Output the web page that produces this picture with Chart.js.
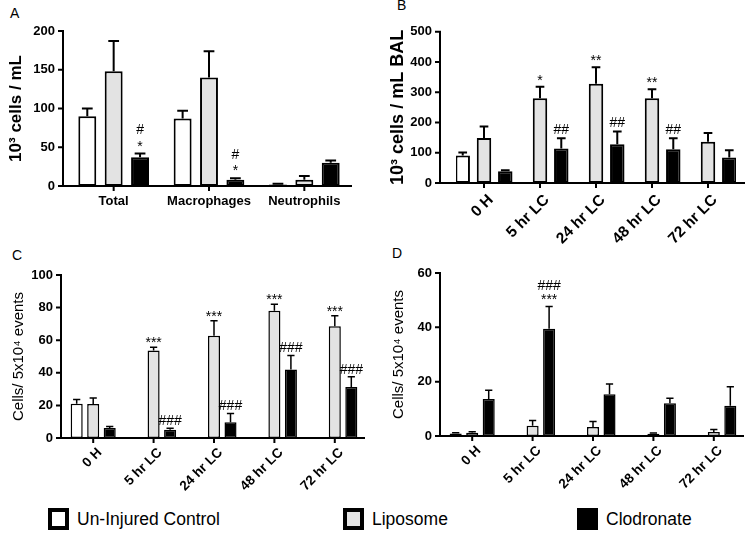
<!DOCTYPE html>
<html>
<head>
<meta charset="utf-8">
<script src="https://cdn.jsdelivr.net/npm/chart.js@4.4.1/dist/chart.umd.min.js"></script>
<style>
  body { margin: 0; background: #fff; width: 754px; height: 539px; position: relative; overflow: hidden;
         font-family: 'Liberation Sans', Arial, sans-serif; color: #000; }
  canvas { position: absolute; }
  .tag { position: absolute; font-size: 14px; line-height: 14px; }
  .key { position: absolute; top: 508px; box-sizing: border-box; width: 21px; height: 22px; border: 4px solid #000; }
  .keytext { position: absolute; top: 508px; font-size: 17.5px; line-height: 22px; }
</style>
</head>
<body>
<div class="tag" style="left:10px; top:6px;">A</div>
<div class="tag" style="left:397px; top:-2px;">B</div>
<div class="tag" style="left:12px; top:248px;">C</div>
<div class="tag" style="left:392px; top:246px;">D</div>

<canvas id="chartA" width="370" height="240" style="left:0px; top:0px;"></canvas>
<canvas id="chartB" width="374" height="250" style="left:380px; top:0px;"></canvas>
<canvas id="chartC" width="380" height="255" style="left:0px; top:250px;"></canvas>
<canvas id="chartD" width="374" height="255" style="left:380px; top:250px;"></canvas>

<div class="key" style="left:48px; background:#ffffff;"></div>
<div class="keytext" style="left:77px;">Un-Injured Control</div>
<div class="key" style="left:343px; background:#e3e3e3;"></div>
<div class="keytext" style="left:372px;">Liposome</div>
<div class="key" style="left:577px; background:#000000;"></div>
<div class="keytext" style="left:606px;">Clodronate</div>

<script>
// Grupos: Un-Injured Control (branco), Liposome (cinza), Clodronate (preto)

// --- Painel A: BAL total / macrófagos / neutrófilos ---
const aLabels = ['Total', 'Macrophages', 'Neutrophils'];
const aCtrl = [90, 87, 2];
const aCtrlErr = [10, 10, 1];
const aLipo = [148, 140, 8];
const aLipoErr = [39, 34, 5];
const aClod = [37, 8, 30];
const aClodErr = [5, 2, 3];
const aClodStars = ['*', '*', ''];
const aClodHashes = ['#', '#', ''];
const aTicks = [0, 50, 100, 150, 200];

// --- Painel B: células BAL ao longo do tempo ---
const timeLabels = ['0 H', '5 hr LC', '24 hr LC', '48 hr LC', '72 hr LC'];
const bCtrl = [91, null, null, null, null];
const bCtrlErr = [10, 0, 0, 0, 0];
const bLipo = [149, 280, 328, 280, 136];
const bLipoErr = [38, 38, 55, 30, 29];
const bClod = [39, 114, 128, 112, 84];
const bClodErr = [3, 34, 42, 36, 24];
const bLipoStars = ['', '*', '**', '**', ''];
const bClodHashes = ['', '##', '##', '##', ''];
const bTicks = [0, 100, 200, 300, 400, 500];

// --- Painel C ---
const cCtrl = [21, null, null, null, null];
const cCtrlErr = [2.6, 0, 0, 0, 0];
const cLipo = [20.8, 53.7, 62.8, 78, 68.5];
const cLipoErr = [3.8, 2, 9.2, 4, 6.5];
const cClod = [6.1, 5.0, 9.6, 42, 31.3];
const cClodErr = [1, 1, 5.4, 8.6, 6.3];
const cLipoStars = ['', '***', '***', '***', '***'];
const cClodHashes = ['', '###', '###', '###', '###'];
const cTicks = [0, 20, 40, 60, 80, 100];

// --- Painel D ---
const dCtrl = [0.9, null, null, null, null];
const dCtrlErr = [0.3, 0, 0, 0, 0];
const dLipo = [1.2, 3.8, 3.3, 0.8, 1.5];
const dLipoErr = [0.4, 1.9, 2.0, 0.3, 0.9];
const dClod = [13.6, 39.5, 15.4, 12.1, 11.1];
const dClodErr = [3.2, 8.2, 3.7, 1.8, 7.0];
const dClodStars = ['', '***', '', '', ''];
const dClodHashes = ['', '###', '', '', ''];
const dTicks = [0, 20, 40, 60];

const FONT = "'Liberation Sans', Arial, sans-serif";
Chart.defaults.font.family = FONT;
Chart.defaults.color = '#000';

// Eixos no estilo Prism + barras de erro + marcas de significância
const prismPlugin = {
    id: 'prism',
    afterDatasetsDraw(chart, args, opts) {
        const ctx = chart.ctx;
        const area = chart.chartArea;
        const xs = chart.scales.x;
        const ys = chart.scales.y;
        ctx.save();
        ctx.strokeStyle = '#000';
        ctx.fillStyle = '#000';
        ctx.lineCap = 'butt';

        chart.data.datasets.forEach((ds, di) => {
            const meta = chart.getDatasetMeta(di);
            meta.data.forEach((bar, i) => {
                const v = ds.data[i];
                if (v === null || v === undefined) return;
                const top = ys.getPixelForValue(v + (ds.errors[i] || 0));
                const half = bar.width * 0.3;
                ctx.lineWidth = opts.errWidth;
                ctx.beginPath();
                ctx.moveTo(bar.x, bar.y);
                ctx.lineTo(bar.x, top);
                ctx.moveTo(bar.x - half, top);
                ctx.lineTo(bar.x + half, top);
                ctx.stroke();

                // marcas: * embaixo, # em cima
                ctx.textAlign = 'center';
                ctx.textBaseline = 'alphabetic';
                ctx.font = '14px ' + FONT;
                let cy = top;
                const star = ds.stars ? ds.stars[i] : '';
                const hash = ds.hashes ? ds.hashes[i] : '';
                if (star) {
                    cy -= opts.starGap;
                    ctx.fillText(star, bar.x, cy + 0.575 * 14);
                }
                if (hash) {
                    cy -= star ? opts.stackGap : opts.hashGap;
                    ctx.fillText(hash, bar.x, cy + 0.35 * 14);
                }
            });
        });

        const x0 = area.left - opts.gapLeft;
        const x1 = area.right + opts.extraRight;
        const yTop = ys.getPixelForValue(ys.max);
        ctx.lineWidth = 2;
        ctx.beginPath();
        ctx.moveTo(x0, yTop - 1);
        ctx.lineTo(x0, area.bottom);
        ctx.lineTo(x1, area.bottom);
        ys.ticks.forEach(t => {
            const y = ys.getPixelForValue(t.value);
            ctx.moveTo(x0 - 5, y);
            ctx.lineTo(x0, y);
        });
        xs.ticks.forEach((t, i) => {
            const x = xs.getPixelForTick(i);
            ctx.moveTo(x, area.bottom);
            ctx.lineTo(x, area.bottom + 5);
        });
        ctx.stroke();

        // rótulos do eixo x inclinados a 45°
        if (opts.slanted) {
            ctx.font = 'bold ' + opts.labelSize + 'px ' + FONT;
            ctx.textAlign = 'right';
            ctx.textBaseline = 'middle';
            chart.data.labels.forEach((lab, i) => {
                const x = xs.getPixelForTick(i);
                ctx.save();
                ctx.translate(x + opts.labelDx, area.bottom + opts.labelDy);
                ctx.rotate(-Math.PI / 4);
                ctx.fillText(lab, 0, 0);
                ctx.restore();
            });
        }
        ctx.restore();
    }
};

function makeSeries(ctrl, ctrlErr, lipo, lipoErr, clod, clodErr, marks) {
    return [
        { label: 'Un-Injured Control', data: ctrl, errors: ctrlErr, backgroundColor: '#ffffff',
          stars: marks.ctrlStars, hashes: marks.ctrlHashes },
        { label: 'Liposome', data: lipo, errors: lipoErr, backgroundColor: '#e3e3e3',
          stars: marks.lipoStars, hashes: marks.lipoHashes },
        { label: 'Clodronate', data: clod, errors: clodErr, backgroundColor: '#000000',
          stars: marks.clodStars, hashes: marks.clodHashes }
    ];
}

function createPrismBarChart(elementId, labels, series, ticks, lay) {
    const ctx = document.getElementById(elementId).getContext('2d');
    new Chart(ctx, {
        type: 'bar',
        data: {
            labels: labels,
            datasets: series.map(s => Object.assign({
                borderColor: '#000',
                borderWidth: lay.barBorder,
                borderSkipped: false,
                categoryPercentage: lay.catPct,
                barPercentage: lay.barPct
            }, s))
        },
        options: {
            responsive: false,
            animation: false,
            events: [],
            layout: { padding: { left: 0, top: lay.top, right: lay.right, bottom: 0 } },
            plugins: {
                legend: { display: false },
                tooltip: { enabled: false },
                prism: { gapLeft: lay.gapLeft, extraRight: lay.extraRight, errWidth: lay.errWidth,
                         starGap: lay.starGap, hashGap: lay.hashGap, stackGap: lay.stackGap,
                         slanted: lay.slanted, labelSize: lay.labelSize,
                         labelDx: lay.labelDx, labelDy: lay.labelDy }
            },
            scales: {
                x: {
                    grid: { display: false, drawTicks: false },
                    border: { display: false },
                    ticks: {
                        display: !lay.slanted,
                        autoSkip: false,
                        maxRotation: 0,
                        minRotation: 0,
                        padding: 8,
                        font: { size: 13, weight: 'bold' }
                    },
                    afterFit: scale => { scale.height = lay.xHeight; }
                },
                y: {
                    min: ticks[0],
                    max: ticks[ticks.length - 1],
                    grid: { display: false, drawTicks: false },
                    border: { display: false },
                    afterBuildTicks: scale => { scale.ticks = ticks.map(v => ({ value: v })); },
                    ticks: { padding: lay.gapLeft + 8, font: { size: 13, weight: 'bold' } },
                    title: {
                        display: true,
                        text: lay.title,
                        font: { size: lay.titleSize, weight: lay.titleWeight },
                        padding: { top: lay.titlePad, bottom: 0 }
                    },
                    afterFit: scale => { scale.width = lay.yWidth; }
                }
            }
        },
        plugins: [prismPlugin]
    });
}

createPrismBarChart('chartA', aLabels,
    makeSeries(aCtrl, aCtrlErr, aLipo, aLipoErr, aClod, aClodErr,
               { clodStars: aClodStars, clodHashes: aClodHashes }),
    aTicks,
    { top: 31, right: 18, yWidth: 66, xHeight: 54, gapLeft: 3, extraRight: 0,
      catPct: 0.83, barPct: 0.68, barBorder: 2, errWidth: 2, slanted: false,
      title: '10³ cells / mL', titleSize: 17, titleWeight: 'bold', titlePad: 6,
      starGap: 11, hashGap: 9, stackGap: 13 });

createPrismBarChart('chartB', timeLabels,
    makeSeries(bCtrl, bCtrlErr, bLipo, bLipoErr, bClod, bClodErr,
               { lipoStars: bLipoStars, clodHashes: bClodHashes }),
    bTicks,
    { top: 21, right: 18, yWidth: 76, xHeight: 67, gapLeft: 16, extraRight: 9,
      catPct: 1.14, barPct: 0.68, barBorder: 2, errWidth: 2,
      slanted: true, labelSize: 15.5, labelDx: 7, labelDy: 14.5,
      title: '10³ cells / mL BAL', titleSize: 18, titleWeight: 'bold', titlePad: 7,
      starGap: 10, hashGap: 9, stackGap: 12 });

createPrismBarChart('chartC', timeLabels,
    makeSeries(cCtrl, cCtrlErr, cLipo, cLipoErr, cClod, cClodErr,
               { lipoStars: cLipoStars, clodHashes: cClodHashes }),
    cTicks,
    { top: 25, right: 15, yWidth: 63, xHeight: 67, gapLeft: 2, extraRight: 0,
      catPct: 0.82, barPct: 0.73, barBorder: 1.5, errWidth: 1.5,
      slanted: true, labelSize: 13.5, labelDx: 6.5, labelDy: 12.5,
      title: 'Cells/ 5x10⁴ events', titleSize: 15, titleWeight: 'normal', titlePad: 10,
      starGap: 8, hashGap: 8, stackGap: 11 });

createPrismBarChart('chartD', timeLabels,
    makeSeries(dCtrl, dCtrlErr, dLipo, dLipoErr, dClod, dClodErr,
               { clodStars: dClodStars, clodHashes: dClodHashes }),
    dTicks,
    { top: 23, right: 10, yWidth: 62, xHeight: 69, gapLeft: 2, extraRight: 0,
      catPct: 0.82, barPct: 0.73, barBorder: 1.5, errWidth: 1.5,
      slanted: true, labelSize: 13.5, labelDx: 6.5, labelDy: 12.5,
      title: 'Cells/ 5x10⁴ events', titleSize: 15, titleWeight: 'normal', titlePad: 10,
      starGap: 10, hashGap: 8, stackGap: 11 });
</script>
</body>
</html>
